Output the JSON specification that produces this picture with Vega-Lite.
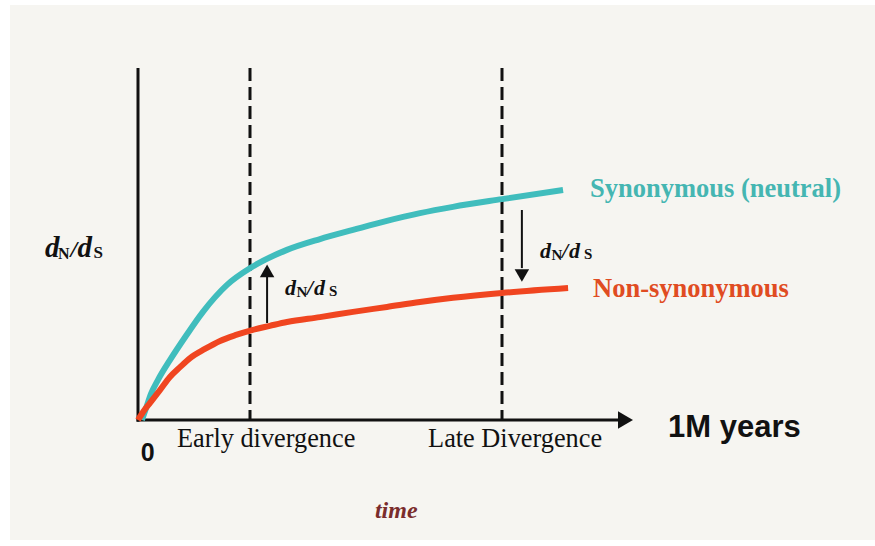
{
  "$schema": "https://vega.github.io/schema/vega-lite/v6.json",
  "autosize": {"type": "none"},
  "width": 865,
  "height": 535,
  "padding": {"left": 10, "top": 5, "right": 0, "bottom": 6},
  "background": "#ffffff",
  "config": {"view": {"stroke": null, "fill": "#f6f5f1"}},
  "datasets": {
    "curves": [
      {"series": "Synonymous", "t": 0.14, "v": 0},
      {"series": "Synonymous", "t": 0.29, "v": 0.34},
      {"series": "Synonymous", "t": 0.46, "v": 0.74},
      {"series": "Synonymous", "t": 0.71, "v": 1.14},
      {"series": "Synonymous", "t": 1.14, "v": 1.71},
      {"series": "Synonymous", "t": 1.71, "v": 2.40},
      {"series": "Synonymous", "t": 2.32, "v": 3.09},
      {"series": "Synonymous", "t": 3.18, "v": 3.86},
      {"series": "Synonymous", "t": 4.07, "v": 4.37},
      {"series": "Synonymous", "t": 5.32, "v": 4.86},
      {"series": "Synonymous", "t": 6.50, "v": 5.17},
      {"series": "Synonymous", "t": 7.68, "v": 5.43},
      {"series": "Synonymous", "t": 8.89, "v": 5.69},
      {"series": "Synonymous", "t": 10.07, "v": 5.91},
      {"series": "Synonymous", "t": 11.25, "v": 6.09},
      {"series": "Synonymous", "t": 13.00, "v": 6.31},
      {"series": "Synonymous", "t": 15.18, "v": 6.57},
      {"series": "Non-synonymous", "t": 0, "v": 0},
      {"series": "Non-synonymous", "t": 0.18, "v": 0.23},
      {"series": "Non-synonymous", "t": 0.43, "v": 0.49},
      {"series": "Non-synonymous", "t": 0.79, "v": 0.86},
      {"series": "Non-synonymous", "t": 1.14, "v": 1.23},
      {"series": "Non-synonymous", "t": 1.50, "v": 1.51},
      {"series": "Non-synonymous", "t": 1.86, "v": 1.77},
      {"series": "Non-synonymous", "t": 2.39, "v": 2.03},
      {"series": "Non-synonymous", "t": 2.93, "v": 2.26},
      {"series": "Non-synonymous", "t": 3.50, "v": 2.43},
      {"series": "Non-synonymous", "t": 4.07, "v": 2.57},
      {"series": "Non-synonymous", "t": 4.71, "v": 2.69},
      {"series": "Non-synonymous", "t": 5.32, "v": 2.80},
      {"series": "Non-synonymous", "t": 6.50, "v": 2.94},
      {"series": "Non-synonymous", "t": 7.68, "v": 3.09},
      {"series": "Non-synonymous", "t": 8.89, "v": 3.23},
      {"series": "Non-synonymous", "t": 10.07, "v": 3.37},
      {"series": "Non-synonymous", "t": 11.25, "v": 3.49},
      {"series": "Non-synonymous", "t": 13.00, "v": 3.63},
      {"series": "Non-synonymous", "t": 15.36, "v": 3.77}
    ],
    "yaxis": [{"t": 0, "v": 10.06, "v2": -0.05}],
    "xaxis": [{"t": -0.05, "t2": 17.2, "v": 0}],
    "xhead": [{"t": 17.41, "v": 0}],
    "dashes": [
      {"name": "Early divergence", "t": 4, "v": 10.06, "v2": 0},
      {"name": "Late Divergence", "t": 13, "v": 10.06, "v2": 0}
    ],
    "shafts": [
      {"dir": "up", "t": 4.61, "v": 2.77, "v2": 4.09},
      {"dir": "down", "t": 13.71, "v": 6.0, "v2": 4.34}
    ],
    "heads": [
      {"dir": "up", "t": 4.61, "v": 4.26},
      {"dir": "down", "t": 13.71, "v": 4.13}
    ],
    "labels": [
      {"id": "syn", "text": "Synonymous (neutral)", "t": 16.14, "v": 6.37},
      {"id": "non", "text": "Non-synonymous", "t": 16.25, "v": 3.51},
      {"id": "phase", "text": "Early divergence", "t": 1.39, "v": -0.77},
      {"id": "phase", "text": "Late Divergence", "t": 10.36, "v": -0.77},
      {"id": "zero", "text": "0", "t": 0.1, "v": -1.18},
      {"id": "unit", "text": "1M years", "t": 18.93, "v": -0.49},
      {"id": "time", "text": "time", "t": 8.46, "v": -2.8}
    ],
    "dnds": [
      {"id": "big", "t": -3.32, "v": 4.66},
      {"id": "up", "t": 5.25, "v": 3.57},
      {"id": "down", "t": 14.36, "v": 4.63}
    ]
  },
  "encoding": {
    "x": {"field": "t", "type": "quantitative", "axis": null, "scale": {"domain": [-4.5714, 26.3214], "nice": false, "zero": false}},
    "y": {"field": "v", "type": "quantitative", "axis": null, "scale": {"domain": [-3.4286, 11.857], "nice": false, "zero": false}}
  },
  "layer": [
    {
      "data": {"name": "dashes"},
      "mark": {"type": "rule", "strokeWidth": 3, "strokeDash": [13, 6], "color": "#111111"},
      "encoding": {"y2": {"field": "v2"}}
    },
    {
      "data": {"name": "yaxis"},
      "mark": {"type": "rule", "strokeWidth": 3, "color": "#111111"},
      "encoding": {"y2": {"field": "v2"}}
    },
    {
      "data": {"name": "xaxis"},
      "mark": {"type": "rule", "strokeWidth": 3, "color": "#111111"},
      "encoding": {"x2": {"field": "t2"}}
    },
    {
      "data": {"name": "xhead"},
      "mark": {"type": "point", "shape": "triangle-right", "size": 300, "filled": true, "color": "#111111", "opacity": 1},
      "encoding": {}
    },
    {
      "data": {"name": "curves"},
      "mark": {"type": "line", "strokeWidth": 6, "interpolate": "monotone", "strokeCap": "butt"},
      "encoding": {
        "color": {"field": "series", "type": "nominal", "legend": null,
          "scale": {"domain": ["Synonymous", "Non-synonymous"], "range": ["#40bdbd", "#f04520"]}},
        "order": {"field": "t", "type": "quantitative"}
      }
    },
    {
      "data": {"name": "shafts"},
      "mark": {"type": "rule", "strokeWidth": 2, "color": "#111111"},
      "encoding": {"y2": {"field": "v2"}}
    },
    {
      "data": {"name": "heads"},
      "mark": {"type": "point", "filled": true, "color": "#111111", "opacity": 1, "size": 210},
      "encoding": {
        "shape": {"field": "dir", "type": "nominal", "legend": null,
          "scale": {"domain": ["up", "down"], "range": ["triangle-up", "triangle-down"]}}
      }
    },
    {
      "data": {"name": "labels"},
      "transform": [{"filter": "datum.id === 'syn'"}],
      "mark": {"type": "text", "align": "left", "baseline": "alphabetic", "font": "Liberation Serif", "fontWeight": "bold", "fontSize": 26.5, "color": "#45b6b2"},
      "encoding": {"text": {"field": "text"}}
    },
    {
      "data": {"name": "labels"},
      "transform": [{"filter": "datum.id === 'non'"}],
      "mark": {"type": "text", "align": "left", "baseline": "alphabetic", "font": "Liberation Serif", "fontWeight": "bold", "fontSize": 26.5, "color": "#e04c22"},
      "encoding": {"text": {"field": "text"}}
    },
    {
      "data": {"name": "labels"},
      "transform": [{"filter": "datum.id === 'phase'"}],
      "mark": {"type": "text", "align": "left", "baseline": "alphabetic", "font": "Liberation Serif", "fontSize": 26.3, "color": "#111111"},
      "encoding": {"text": {"field": "text"}}
    },
    {
      "data": {"name": "labels"},
      "transform": [{"filter": "datum.id === 'zero'"}],
      "mark": {"type": "text", "align": "left", "baseline": "alphabetic", "font": "Liberation Sans", "fontWeight": "bold", "fontSize": 25, "color": "#111111"},
      "encoding": {"text": {"field": "text"}}
    },
    {
      "data": {"name": "labels"},
      "transform": [{"filter": "datum.id === 'unit'"}],
      "mark": {"type": "text", "align": "left", "baseline": "alphabetic", "font": "Liberation Sans", "fontWeight": "bold", "fontSize": 31, "color": "#111111"},
      "encoding": {"text": {"field": "text"}}
    },
    {
      "data": {"name": "labels"},
      "transform": [{"filter": "datum.id === 'time'"}],
      "mark": {"type": "text", "align": "left", "baseline": "alphabetic", "font": "Liberation Serif", "fontWeight": "bold", "fontStyle": "italic", "fontSize": 24, "color": "#7a2c2c"},
      "encoding": {"text": {"field": "text"}}
    },
    {
      "data": {"name": "dnds"},
      "transform": [{"filter": "datum.id === 'big'"}],
      "layer": [
        {"mark": {"type": "text", "text": "d", "align": "left", "baseline": "alphabetic", "font": "Liberation Serif", "fontWeight": "bold", "fontStyle": "italic", "fontSize": 29, "color": "#111111"}},
        {"mark": {"type": "text", "text": "N", "dx": 13, "dy": 2, "align": "left", "baseline": "alphabetic", "font": "Liberation Serif", "fontWeight": "bold", "fontSize": 16, "color": "#111111"}},
        {"mark": {"type": "text", "text": "/", "dx": 25.5, "align": "left", "baseline": "alphabetic", "font": "Liberation Serif", "fontWeight": "bold", "fontStyle": "italic", "fontSize": 24, "color": "#111111"}},
        {"mark": {"type": "text", "text": "d", "dx": 32.5, "align": "left", "baseline": "alphabetic", "font": "Liberation Serif", "fontWeight": "bold", "fontStyle": "italic", "fontSize": 29, "color": "#111111"}},
        {"mark": {"type": "text", "text": "S", "dx": 48.5, "dy": 1, "align": "left", "baseline": "alphabetic", "font": "Liberation Serif", "fontWeight": "bold", "fontSize": 17, "color": "#111111"}}
      ]
    },
    {
      "data": {"name": "dnds"},
      "transform": [{"filter": "datum.id !== 'big'"}],
      "layer": [
        {"mark": {"type": "text", "text": "d", "align": "left", "baseline": "alphabetic", "font": "Liberation Serif", "fontWeight": "bold", "fontStyle": "italic", "fontSize": 22, "color": "#111111"}},
        {"mark": {"type": "text", "text": "N", "dx": 11.5, "dy": 2, "align": "left", "baseline": "alphabetic", "font": "Liberation Serif", "fontWeight": "bold", "fontSize": 15, "color": "#111111"}},
        {"mark": {"type": "text", "text": "/", "dx": 22, "align": "left", "baseline": "alphabetic", "font": "Liberation Serif", "fontWeight": "bold", "fontStyle": "italic", "fontSize": 22, "color": "#111111"}},
        {"mark": {"type": "text", "text": "d", "dx": 29, "align": "left", "baseline": "alphabetic", "font": "Liberation Serif", "fontWeight": "bold", "fontStyle": "italic", "fontSize": 22, "color": "#111111"}},
        {"mark": {"type": "text", "text": "S", "dx": 44, "dy": 1, "align": "left", "baseline": "alphabetic", "font": "Liberation Serif", "fontWeight": "bold", "fontSize": 15, "color": "#111111"}}
      ]
    }
  ]
}
